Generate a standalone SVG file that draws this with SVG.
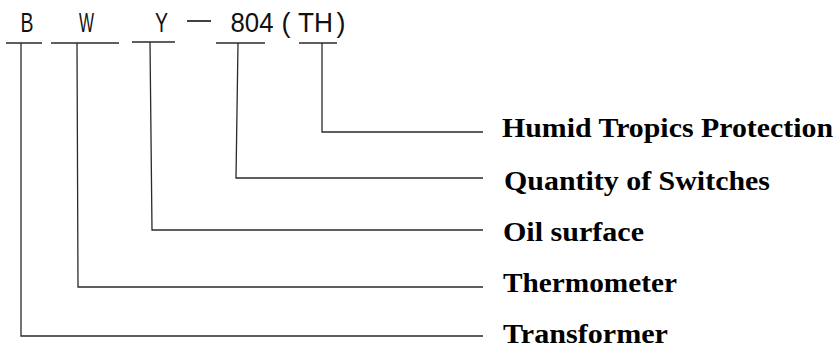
<svg xmlns="http://www.w3.org/2000/svg" width="839" height="348" viewBox="0 0 839 348">
<style>
.code{font-family:"Liberation Sans",Arial,sans-serif;font-size:28px;fill:#111}
.lbl{font-family:"Liberation Serif","Times New Roman",serif;font-weight:bold;font-size:28px;fill:#000}
.ln{stroke:#2a2a2a;stroke-width:1.3;fill:none}
</style>
<rect width="839" height="348" fill="#fff"/>
<g id="code">
<text class="code" x="20.5" y="32" textLength="13" lengthAdjust="spacingAndGlyphs">B</text>
<text class="code" x="79" y="32" textLength="15" lengthAdjust="spacingAndGlyphs">W</text>
<text class="code" x="155" y="32" textLength="13" lengthAdjust="spacingAndGlyphs">Y</text>
<line x1="187" y1="21" x2="211" y2="21" stroke="#111" stroke-width="1.6"/>
<text class="code" x="230.5" y="32" textLength="43" lengthAdjust="spacingAndGlyphs">804</text>
<text class="code" x="281.5" y="32" textLength="9" lengthAdjust="spacingAndGlyphs">(</text>
<text class="code" x="298" y="32" textLength="35" lengthAdjust="spacingAndGlyphs">TH</text>
<text class="code" x="336.5" y="32" textLength="9" lengthAdjust="spacingAndGlyphs">)</text>
</g>
<g id="connectors">
<path class="ln" d="M6 43H42M21 43V336H483"/>
<path class="ln" d="M51 43H119M77 43L78 287H483"/>
<path class="ln" d="M132 42H175M150 42L152 230H483"/>
<path class="ln" d="M216 43H265M238 43L236 178H483"/>
<path class="ln" d="M299 43H337M322 43V132H483"/>
</g>
<g id="n-th"><text class="lbl" x="502" y="137" textLength="331" lengthAdjust="spacingAndGlyphs">Humid Tropics Protection</text></g>
<g id="n-qty"><text class="lbl" x="504" y="190" textLength="266" lengthAdjust="spacingAndGlyphs">Quantity of Switches</text></g>
<g id="n-oil"><text class="lbl" x="503" y="241" textLength="141" lengthAdjust="spacingAndGlyphs">Oil surface</text></g>
<g id="n-therm"><text class="lbl" x="503" y="292" textLength="174" lengthAdjust="spacingAndGlyphs">Thermometer</text></g>
<g id="n-trans"><text class="lbl" x="503" y="343" textLength="165" lengthAdjust="spacingAndGlyphs">Transformer</text></g>
</svg>
